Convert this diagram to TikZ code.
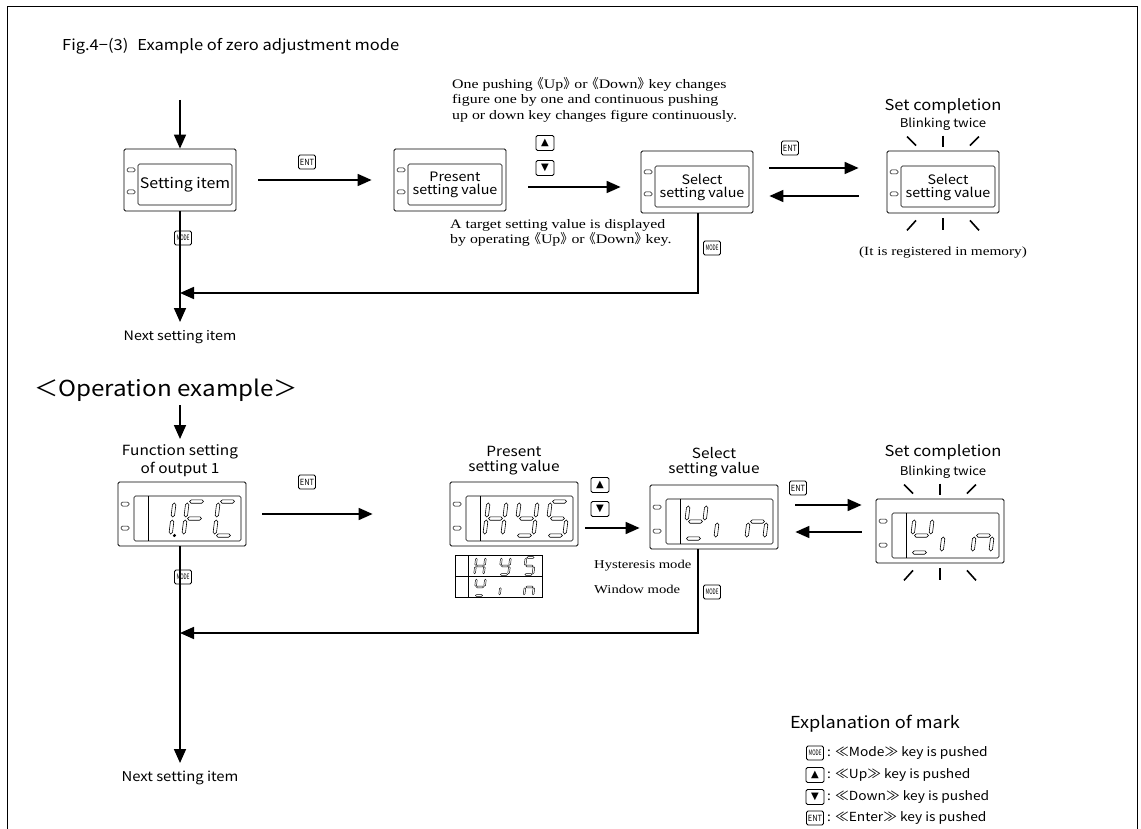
\documentclass[tikz,border=0pt]{standalone}
\usepackage{fontspec}
\usepackage{graphicx}
\setmainfont{Liberation Serif}[FakeStretch=1.22]
\setsansfont{Noto Sans CJK JP}[FakeStretch=1.1]
\newfontfamily\cjk{Noto Sans CJK JP}
\newfontfamily\djv{DejaVu Sans}
\usetikzlibrary{arrows.meta,calc}
\newcommand\fsz[2]{\fontsize{#1}{#2}\selectfont}
\newcommand\segH[3]{\draw[seg] (#1,#3)--(#1+1.7,#3-1.7)--(#2-1.7,#3-1.7)--(#2,#3)--(#2-1.7,#3+1.7)--(#1+1.7,#3+1.7)--cycle;}
\newcommand\segV[3]{\draw[seg] (#1,#2)--(#1+1.7,#2+1.7)--(#1+1.7,#3-1.7)--(#1,#3)--(#1-1.7,#3-1.7)--(#1-1.7,#2+1.7)--cycle;}
\newcommand\sga{\segH{-7}{7}{-17}}
\newcommand\sgb{\segV{9}{-15.5}{-1.5}}
\newcommand\sgc{\segV{9}{1.5}{15.5}}
\newcommand\sgd{\segH{-7}{7}{17}}
\newcommand\sge{\segV{-9}{1.5}{15.5}}
\newcommand\sgf{\segV{-9}{-15.5}{-1.5}}
\newcommand\sgg{\segH{-7}{7}{0}}
\newcommand\sgp{\fill (13,17) circle (1.7);}
\newcommand\sdig[3][1]{\begin{scope}[shift={#2},scale=#1,xslant=0.12]\foreach \s in {#3}{\csname sg\s\endcsname}\end{scope}}
\newcommand\modetxt{\scalebox{0.55}[1]{\fsz{7.5}{7.5}MODE}}
\newcommand\enttxt{\scalebox{0.8}[1]{\fsz{8.5}{8.5}ENT}}
\newcommand\uptxt{{\djv\fsz{10}{10}▲}}
\newcommand\dntxt{{\djv\fsz{10}{10}▼}}
\newcommand\dla{\makebox[0.55em][r]{\cjk 《}}
\newcommand\dra{\makebox[0.55em][l]{\cjk 》}}
\newcommand\blinks[1]{%
 \draw[blink] ($(#1.north)+(-36,-14)$) -- ($(#1.north)+(-27,-5)$);
 \draw[blink] ($(#1.north)+(0,-15)$) -- ($(#1.north)+(0,-4)$);
 \draw[blink] ($(#1.north)+(36,-14)$) -- ($(#1.north)+(27,-5)$);
 \draw[blink] ($(#1.south)+(-36,17)$) -- ($(#1.south)+(-27,7)$);
 \draw[blink] ($(#1.south)+(0,5)$) -- ($(#1.south)+(0,17)$);
 \draw[blink] ($(#1.south)+(36,17)$) -- ($(#1.south)+(27,7)$);}
\tikzset{
 every node/.style={inner sep=0pt},
 arr/.style={line width=1.7pt,-{Triangle[length=14pt,width=12pt]}},
 blink/.style={line width=1.6pt},
 key/.style={draw,line width=0.9pt,rounded corners=1.5pt,minimum width=17pt,minimum height=14pt,inner sep=0pt,font=\sffamily},
 seg/.style={draw,line width=0.6pt,line join=miter},
 led/.style={line width=0.5pt},
 dispA/.style={draw,line width=0.8pt,rounded corners=1.5pt,minimum width=112pt,minimum height=62pt,
  path picture={
   \path (path picture bounding box.north west) coordinate (pp);
   \draw[line width=0.6pt] ($(pp)+(14,15)$) rectangle ($(pp)+(108,56)$);
   \draw[led] ($(pp)+(3,19)$) rectangle ($(pp)+(11,23)$);
   \draw[led] ($(pp)+(3,41)$) rectangle ($(pp)+(11,45)$);
   \node[font=\sffamily\fsz{8}{8},anchor=south east] at ($(pp)+(109,13)$) {Pa};
  }},
 dispB/.style={draw,line width=0.8pt,rounded corners=1.5pt,minimum width=128pt,minimum height=64pt,
  path picture={
   \path (path picture bounding box.north west) coordinate (pp);
   \draw[line width=0.6pt] ($(pp)+(16,14)$) rectangle ($(pp)+(123,59)$);
   \draw[line width=0.6pt] ($(pp)+(30,14)$) -- ($(pp)+(30,59)$);
   \draw[led] ($(pp)+(3,20)$) rectangle ($(pp)+(11,24)$);
   \draw[led] ($(pp)+(3,44)$) rectangle ($(pp)+(11,48)$);
   \node[font=\sffamily\fsz{8}{8},anchor=south east] at ($(pp)+(124,12)$) {Pa};
  }},
 mini/.style={draw,line width=0.6pt,minimum width=87pt,minimum height=21pt,
  path picture={
   \path (path picture bounding box.north west) coordinate (pp);
   \draw[line width=0.6pt] ($(pp)+(13,0)$) -- ($(pp)+(13,21)$);
  }},
 dtxt/.style={font=\sffamily\fsz{13}{13},align=center},
 stxt/.style={font=\fsz{13}{15.5},align=left},
 legt/.style={font=\sffamily\fsz{12.5}{14},anchor=west},
 lab1/.style={font=\sffamily\fsz{14}{14}},
}
\begin{document}
\begin{tikzpicture}[x=1pt,y=-1pt]
\useasboundingbox (0,0) rectangle (1141,829);
\draw[line width=1pt] (7,829) -- (7,7) -- (1137,7) -- (1137,829);
\node[anchor=west,font=\sffamily\fsz{15}{17}] (title) at (62,46) {Fig.4−(3)\hspace{0.6em}Example of zero adjustment mode};

% ---------- top row ----------
\coordinate (A0) at (180,100);
\node[dispA] (A) at (180,180) {};
\node[font=\sffamily\fsz{14.5}{16}] (At) at ($(A)+(5,5)$) {Setting item};
\draw[arr] (A0) -- (A.north);
\node[key] (kA) at (183,238) {\modetxt};
\coordinate (Anext) at (180,322);
\draw[arr] (A.south) -- (Anext);
\node[font=\sffamily\fsz{13}{14}] (Anx) at (180,337) {Next setting item};

\node[dispA] (B) at (450,180) {};
\node[dtxt] (Bt) at ($(B)+(5,5)$) {Present\\setting value};
\node[key] (kAB) at (307,162) {\enttxt};
\draw[arr,shorten <=22pt,shorten >=22pt] (A) -- (B);

\node[stxt,anchor=north west] (T1) at (452,77) {One pushing \dla Up\dra\ or \dla Down\dra\ key changes\\figure one by one and continuous pushing\\up or down key changes figure continuously.};
\node[key,minimum width=18pt,minimum height=15pt] (up1) at (545,143) {\uptxt};
\node[key,minimum width=18pt,minimum height=15pt] (dn1) at (545,168) {\dntxt};

\node[dispA] (C) at (697,182) {};
\node[dtxt] (Ct) at ($(C)+(5,5)$) {Select\\setting value};
\draw[arr] ([xshift=22pt,yshift=-7pt]B.east) -- ([xshift=-20pt,yshift=-5pt]C.west);
\node[stxt,anchor=north west] (T2) at (450,219) {A target setting value is displayed\\by operating \dla Up\dra\ or \dla Down\dra\ key.};
\node[key] (kC) at (712,248) {\modetxt};
\coordinate (Cx) at (698,0);
\coordinate (Aj) at (180,293);
\draw[arr] (C.south -| Cx) |- (Aj);

\node[dispA] (D) at (943,182) {};
\node[dtxt] (Dt) at ($(D)+(5,5)$) {Select\\setting value};
\node[key] (kCD) at (790,148) {\enttxt};
\draw[arr] ([xshift=16pt,yshift=14pt]C.east) -- ([xshift=-28pt,yshift=14pt]D.west);
\draw[arr] ([xshift=-28pt,yshift=-14pt]D.west) -- ([xshift=16pt,yshift=-14pt]C.east);
\blinks{D}
\node[font=\sffamily\fsz{15}{17}] (Dsc) at (943,106) {Set completion};
\node[font=\sffamily\fsz{12}{14}] (Dbt) at (943,124) {Blinking twice};
\node[font=\fsz{12.5}{15}] (Dreg) at (943,253) {(It is registered in memory)};

% ---------- bottom row ----------
\node[anchor=west,font=\sffamily\fsz{22}{24}] (opx) at (34,390) {＜Operation example＞};
\coordinate (E0) at (180,405);
\coordinate (E1) at (180,439);
\draw[arr] (E0) -- (E1);
\node[lab1] (Elab1) at (180,452) {Function setting};
\node[lab1] (Elab2) at (180,469) {of output 1};
\node[dispB] (E) at (182,514) {};
\sdig{($(E)+(-18.5,4.5)$)}{b,c,p}
\sdig{($(E)+(12.5,4.5)$)}{a,e,f,g}
\sdig{($(E)+(43.5,4.5)$)}{a,d,e,f}
\node[key] (kE) at (183,577) {\modetxt};
\coordinate (Enext) at (180,763);
\draw[arr] (E.south -| Enext) -- (Enext);
\node[font=\sffamily\fsz{13.5}{14}] (Enx) at (180,778) {Next setting item};

\node[lab1] (Flab1) at (514,451) {Present};
\node[lab1] (Flab2) at (514,468) {setting value};
\node[dispB] (F) at (514,514) {};
\sdig{($(F)+(-18.5,4.5)$)}{b,c,e,f,g}
\sdig{($(F)+(12.5,4.5)$)}{b,c,d,f,g}
\sdig{($(F)+(43.5,4.5)$)}{a,c,d,f,g}
\node[key] (kEF) at (307,482) {\enttxt};
\draw[arr] ([xshift=16pt]E.east) -- ([xshift=-77pt]F.west);

\node[mini] (M1) at (498.5,566) {};
\node[mini] (M2) at (498.5,587) {};
\begin{scope}[seg/.style={draw,line width=0.45pt,line join=miter}]
\sdig[0.5]{($(M1)+(-18.5,0)$)}{b,c,e,f,g}
\sdig[0.5]{($(M1)+(6.5,0)$)}{b,c,d,f,g}
\sdig[0.5]{($(M1)+(31,0)$)}{a,c,d,f,g}
\sdig[0.5]{($(M2)+(-18.5,0)$)}{b,d,f,g}
\sdig[0.5]{($(M2)+(6.5,0)$)}{e}
\sdig[0.5]{($(M2)+(31,0)$)}{c,e,g}
\end{scope}
\node[font=\fsz{12}{14},anchor=west] (hys) at (594,566) {Hysteresis mode};
\node[font=\fsz{12}{14},anchor=west] (win) at (594,589) {Window mode};

\node[key,minimum width=18pt,minimum height=15pt] (up2) at (600,485) {\uptxt};
\node[key,minimum width=18pt,minimum height=15pt] (dn2) at (600,509) {\dntxt};
\node[lab1] (Glab1) at (714,453) {Select};
\node[lab1] (Glab2) at (714,470) {setting value};
\node[dispB] (G) at (714,517) {};
\sdig{($(G)+(-18.5,4.5)$)}{b,d,f,g}
\sdig{($(G)+(12.5,4.5)$)}{e}
\sdig{($(G)+(43.5,4.5)$)}{c,e,g}
\draw[arr] ([xshift=7pt,yshift=-14pt]F.east) -- ([xshift=-10pt,yshift=-11pt]G.west);
\node[key] (kG) at (712,592) {\modetxt};
\coordinate (Gx) at (698,0);
\coordinate (Ej) at (180,633);
\draw[arr] (G.south -| Gx) |- (Ej);

\node[dispB] (H) at (940,531) {};
\sdig{($(H)+(-18.5,4.5)$)}{b,d,f,g}
\sdig{($(H)+(12.5,4.5)$)}{e}
\sdig{($(H)+(43.5,4.5)$)}{c,e,g}
\node[key] (kGH) at (798,488) {\enttxt};
\draw[arr] ([xshift=17pt,yshift=12pt]G.east) -- ([xshift=-14pt,yshift=26pt]H.west);
\draw[arr] ([xshift=-14pt,yshift=-1pt]H.west) -- ([xshift=17pt,yshift=-15pt]G.east);
\blinks{H}
\node[font=\sffamily\fsz{15}{17}] (Hsc) at (943,452) {Set completion};
\node[font=\sffamily\fsz{12}{14}] (Hbt) at (943,472) {Blinking twice};

% ---------- legend ----------
\node[font=\sffamily\fsz{16.5}{19}] (expl) at (875,724) {Explanation of mark};
\node[key] (lk1) at (815,753) {\modetxt};
\node[legt] (lt1) at (827,753) {: ≪Mode≫ key is pushed};
\node[key,minimum width=18pt,minimum height=15pt] (lk2) at (815,775) {\uptxt};
\node[legt] (lt2) at (827,775) {: ≪Up≫ key is pushed};
\node[key,minimum width=18pt,minimum height=15pt] (lk3) at (815,797) {\dntxt};
\node[legt] (lt3) at (827,797) {: ≪Down≫ key is pushed};
\node[key] (lk4) at (815,818) {\enttxt};
\node[legt] (lt4) at (827,818) {: ≪Enter≫ key is pushed};
\end{tikzpicture}
\end{document}
